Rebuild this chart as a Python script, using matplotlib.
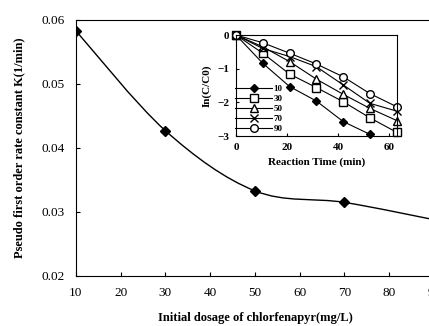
import numpy as np
import matplotlib
matplotlib.use('Agg')
import matplotlib.pyplot as plt
from matplotlib.path import Path
from matplotlib.patches import PathPatch

plt.rcParams['font.family'] = ['Liberation Serif', 'DejaVu Serif']

# Dados principais
dosagem = [10, 30, 50, 70, 90]
k_taxa = [0.0583, 0.0427, 0.0333, 0.0315, 0.0288]

# Dados do grafico interno
tempo = [0, 10.5, 21, 31.5, 42, 52.5, 63]
ln_10 = [0, -0.84, -1.53, -1.96, -2.57, -2.95]
ln_30 = [0, -0.54, -1.16, -1.56, -1.98, -2.46, -2.89]
ln_50 = [0, -0.35, -0.79, -1.31, -1.76, -2.18, -2.54]
ln_70 = [0, -0.40, -0.64, -0.94, -1.48, -2.03, -2.26]
ln_90 = [0, -0.23, -0.54, -0.86, -1.24, -1.74, -2.13]
series = ['10', '30', '50', '70', '90']


def curva_suave(x, y):
    # curva tipo "smoothed line" do Excel (Catmull-Rom em Bezier)
    p = np.column_stack([x, y]).astype(float)
    verts = [p[0]]
    codes = [Path.MOVETO]
    n = len(p)
    for i in range(n - 1):
        p0 = p[i - 1] if i > 0 else p[i]
        p3 = p[i + 2] if i + 2 < n else p[i + 1]
        c1 = p[i] + (p[i + 1] - p0) / 6
        c2 = p[i + 1] - (p3 - p[i]) / 6
        verts += [c1, c2, p[i + 1]]
        codes += [Path.CURVE4] * 3
    return Path(verts, codes)


fig = plt.figure(figsize=(4.29, 3.26), dpi=100)
ax = fig.add_axes([0.177, 0.1534, 0.8345, 0.7853])

ax.add_patch(PathPatch(curva_suave(dosagem, k_taxa), fill=False, lw=1.0,
                       color='black', transform=ax.transData))
ax.plot(dosagem, k_taxa, 'D', color='black', markersize=5)

ax.set_xlim(10, 90)
ax.set_ylim(0.02, 0.06)
ax.set_xticks([10, 20, 30, 40, 50, 60, 70, 80, 90])
ax.set_yticks([0.02, 0.03, 0.04, 0.05, 0.06])
ax.set_yticklabels(['0.02', '0.03', '0.04', '0.05', '0.06'])
ax.tick_params(direction='in', labelsize=9.5, length=3, pad=8)
ax.spines['right'].set_visible(False)
ax.set_xlabel('Initial dosage of chlorfenapyr(mg/L)', fontsize=9,
              fontweight='bold', labelpad=9)
ax.set_ylabel('Pseudo first order rate constant K(1/min)', fontsize=9,
              fontweight='bold', labelpad=12)

# Grafico interno
ins = fig.add_axes([0.5501, 0.5828, 0.3746, 0.3098])
estilo = dict(color='black', lw=0.8, markersize=5.5, clip_on=False)
ins.plot(tempo[:len(ln_10)], ln_10, marker='D', markerfacecolor='black',
         label=series[0], markersize=4.5, color='black', lw=0.8, clip_on=False)
ins.plot(tempo, ln_30, marker='s', markerfacecolor='white', label=series[1], **estilo)
ins.plot(tempo, ln_50, marker='^', markerfacecolor='white', label=series[2], **estilo)
ins.plot(tempo, ln_70, marker='x', label=series[3], **estilo)
ins.plot(tempo, ln_90, marker='o', markerfacecolor='white', label=series[4], **estilo)

ins.set_xlim(0, 63)
ins.set_ylim(-3, 0)
ins.set_xticks([0, 20, 40, 60])
ins.set_yticks([0, -1, -2, -3])
ins.tick_params(direction='in', labelsize=8, length=2, pad=5)
for t in ins.get_xticklabels() + ins.get_yticklabels():
    t.set_fontweight('bold')
ins.set_xlabel('Reaction Time (min)', fontsize=8, fontweight='bold', labelpad=4)
ins.set_ylabel('In(C/C0)', fontsize=8, fontweight='bold', labelpad=4)
ins.legend(loc='lower left', bbox_to_anchor=(-0.02, 0.0), frameon=False,
           handlelength=4.0, handletextpad=0.2, labelspacing=0.2,
           borderpad=0.2, borderaxespad=0.1,
           prop={'size': 6.5, 'weight': 'bold'})

fig.savefig('out.png', dpi=100)
